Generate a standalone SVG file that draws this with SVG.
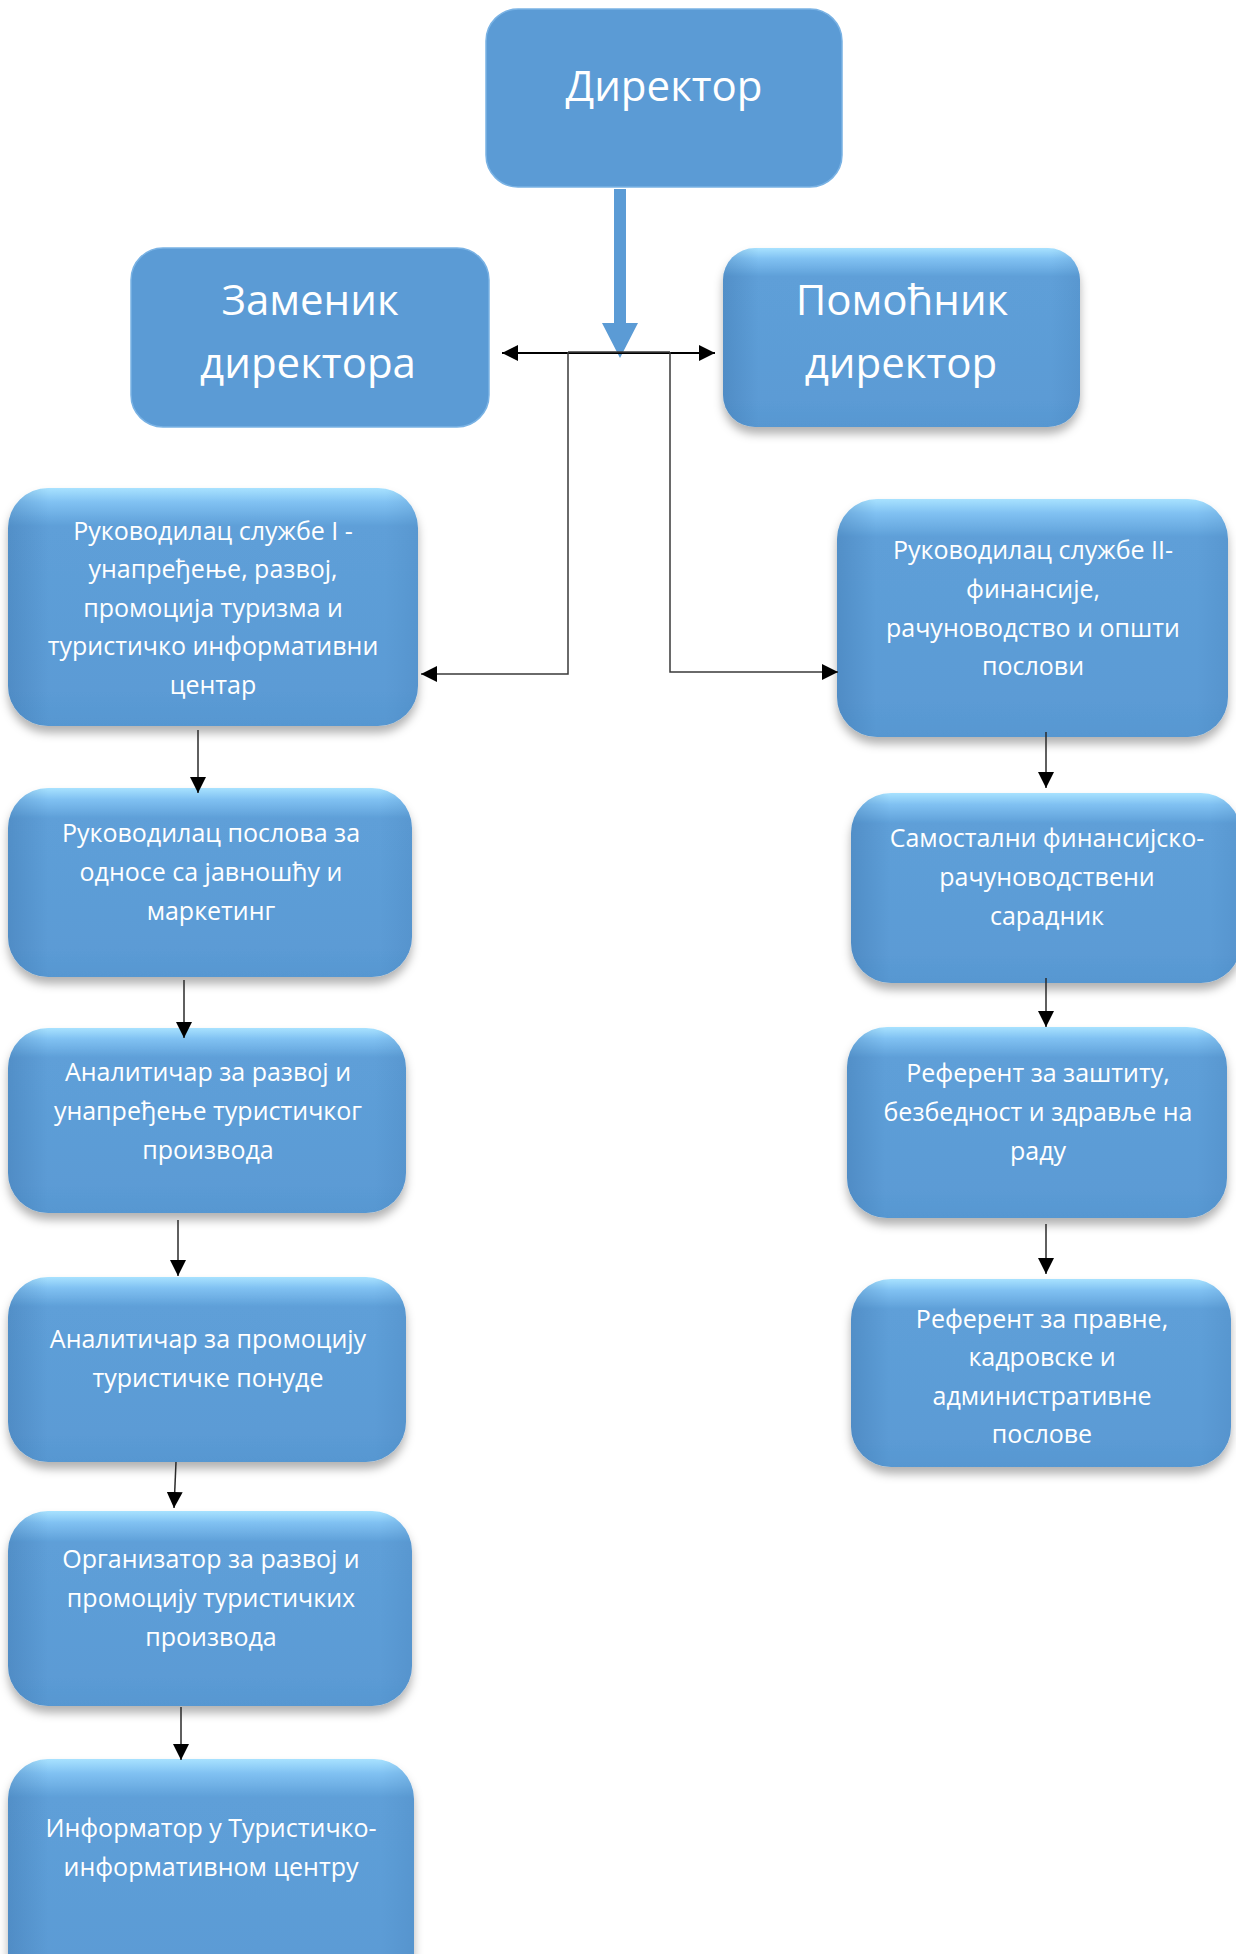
<svg xmlns="http://www.w3.org/2000/svg" width="1236" height="1954" viewBox="0 0 1236 1954">
<defs>
<style>
.t{font-family:"Open Sans","Noto Sans","DejaVu Sans",sans-serif;fill:#ffffff;text-anchor:middle;font-size:25px}
.tt{font-family:"Open Sans","Noto Sans","DejaVu Sans",sans-serif;fill:#ffffff;text-anchor:middle;font-size:42px}
.flat{fill:#5b9bd5;stroke:#79b2e4;stroke-width:1.5}
.box{fill:url(#vg);filter:url(#sh)}
.edge{fill:url(#hg)}
.ln{fill:none;stroke:#2a2a2a;stroke-width:1.5}
.el{fill:none;stroke:#3a3a3a;stroke-width:1.5}
</style>
<linearGradient id="vg" x1="0" y1="0" x2="0" y2="1">
<stop offset="0" stop-color="#a8e2ff"/>
<stop offset="0.06" stop-color="#80c1f2"/>
<stop offset="0.16" stop-color="#5e9fd8"/>
<stop offset="0.85" stop-color="#5b9bd5"/>
<stop offset="1" stop-color="#5797d1"/>
</linearGradient>
<linearGradient id="hg" x1="0" y1="0" x2="1" y2="0">
<stop offset="0" stop-color="#2c5f96" stop-opacity="0.25"/>
<stop offset="0.1" stop-color="#2c5f96" stop-opacity="0"/>
<stop offset="0.92" stop-color="#2c5f96" stop-opacity="0"/>
<stop offset="1" stop-color="#2c5f96" stop-opacity="0.12"/>
</linearGradient>
<filter id="sh" x="-10%" y="-10%" width="120%" height="125%">
<feDropShadow dx="0" dy="7" stdDeviation="5" flood-color="#000" flood-opacity="0.3"/>
</filter>
<marker id="ah" viewBox="0 0 16 16" refX="16" refY="8" markerWidth="16" markerHeight="16" markerUnits="userSpaceOnUse" orient="auto">
<path d="M0,0 L16,8 L0,16 Z" fill="#000"/>
</marker>
<marker id="ahb" viewBox="0 0 16 16" refX="16" refY="8" markerWidth="16" markerHeight="16" markerUnits="userSpaceOnUse" orient="auto-start-reverse">
<path d="M0,0 L16,8 L0,16 Z" fill="#000"/>
</marker>
</defs>
<rect width="1236" height="1954" fill="#ffffff"/>

<g id="director">
<rect class="flat" x="486" y="9" width="356" height="178" rx="32"/>
<text class="tt" x="664" y="101">Директор</text>
</g>

<g id="zamenik">
<rect class="flat" x="131" y="248" width="358" height="179" rx="32"/>
<text class="tt" x="310" y="315">Заменик</text>
<text class="tt" x="308" y="378">директора</text>
</g>

<g id="pomocnik">
<rect class="box" x="723" y="248" width="357" height="179" rx="32"/>
<rect class="edge" x="723" y="248" width="357" height="179" rx="32"/>
<text class="tt" x="902" y="315">Помоћник</text>
<text class="tt" x="901" y="378">директор</text>
</g>

<g id="sluzba1">
<rect class="box" x="8" y="488" width="410" height="238" rx="40"/>
<rect class="edge" x="8" y="488" width="410" height="238" rx="40"/>
<text class="t" x="213" y="540">Руководилац службе I -</text>
<text class="t" x="213" y="578">унапређење, развој,</text>
<text class="t" x="213" y="617">промоција туризма и</text>
<text class="t" x="213" y="655">туристичко информативни</text>
<text class="t" x="213" y="694">центар</text>
</g>

<g id="odnosi">
<rect class="box" x="8" y="788" width="404" height="189" rx="40"/>
<rect class="edge" x="8" y="788" width="404" height="189" rx="40"/>
<text class="t" x="211" y="842">Руководилац послова за</text>
<text class="t" x="211" y="881">односе са јавношћу и</text>
<text class="t" x="211" y="920">маркетинг</text>
</g>

<g id="analiticar1">
<rect class="box" x="8" y="1028" width="398" height="185" rx="40"/>
<rect class="edge" x="8" y="1028" width="398" height="185" rx="40"/>
<text class="t" x="208" y="1081">Аналитичар за развој и</text>
<text class="t" x="208" y="1120">унапређење туристичког</text>
<text class="t" x="208" y="1159">производа</text>
</g>

<g id="analiticar2">
<rect class="box" x="8" y="1277" width="398" height="185" rx="40"/>
<rect class="edge" x="8" y="1277" width="398" height="185" rx="40"/>
<text class="t" x="208" y="1348">Аналитичар за промоцију</text>
<text class="t" x="208" y="1387">туристичке понуде</text>
</g>

<g id="organizator">
<rect class="box" x="8" y="1511" width="404" height="195" rx="40"/>
<rect class="edge" x="8" y="1511" width="404" height="195" rx="40"/>
<text class="t" x="211" y="1568">Организатор за развој и</text>
<text class="t" x="211" y="1607">промоцију туристичких</text>
<text class="t" x="211" y="1646">производа</text>
</g>

<g id="informator">
<rect class="box" x="8" y="1759" width="406" height="240" rx="40"/>
<rect class="edge" x="8" y="1759" width="406" height="240" rx="40"/>
<text class="t" x="211" y="1837">Информатор у Туристичко-</text>
<text class="t" x="211" y="1876">информативном центру</text>
</g>

<g id="sluzba2">
<rect class="box" x="837" y="499" width="391" height="238" rx="40"/>
<rect class="edge" x="837" y="499" width="391" height="238" rx="40"/>
<text class="t" x="1033" y="559">Руководилац службе II-</text>
<text class="t" x="1033" y="598">финансије,</text>
<text class="t" x="1033" y="637">рачуноводство и општи</text>
<text class="t" x="1033" y="675">послови</text>
</g>

<g id="samostalni">
<rect class="box" x="851" y="793" width="390" height="190" rx="40"/>
<rect class="edge" x="851" y="793" width="390" height="190" rx="40"/>
<text class="t" x="1047" y="847">Самостални финансијско-</text>
<text class="t" x="1047" y="886">рачуноводствени</text>
<text class="t" x="1047" y="925">сарадник</text>
</g>

<g id="referent1">
<rect class="box" x="847" y="1027" width="380" height="191" rx="40"/>
<rect class="edge" x="847" y="1027" width="380" height="191" rx="40"/>
<text class="t" x="1038" y="1082">Референт за заштиту,</text>
<text class="t" x="1038" y="1121">безбедност и здравље на</text>
<text class="t" x="1038" y="1160">раду</text>
</g>

<g id="referent2">
<rect class="box" x="851" y="1279" width="380" height="188" rx="40"/>
<rect class="edge" x="851" y="1279" width="380" height="188" rx="40"/>
<text class="t" x="1042" y="1328">Референт за правне,</text>
<text class="t" x="1042" y="1366">кадровске и</text>
<text class="t" x="1042" y="1405">административне</text>
<text class="t" x="1042" y="1443">послове</text>
</g>

<g id="connectors">
<path d="M614,189 H626 V323 H638 L620,358 L602,323 H614 Z" fill="#5b9bd5"/>
<line x1="502" y1="353" x2="715" y2="353" stroke="#000" stroke-width="2" marker-start="url(#ahb)" marker-end="url(#ahb)"/>
<path class="el" d="M568,352 H670"/>
<path class="el" d="M568,352 V674 H421" marker-end="url(#ah)"/>
<path class="el" d="M670,352 V672 H838" marker-end="url(#ah)"/>
<line class="ln" x1="198" y1="730" x2="198" y2="793" marker-end="url(#ah)"/>
<line class="ln" x1="184" y1="980" x2="184" y2="1038" marker-end="url(#ah)"/>
<line class="ln" x1="178" y1="1220" x2="178" y2="1276" marker-end="url(#ah)"/>
<line class="ln" x1="176" y1="1462" x2="174" y2="1508" marker-end="url(#ah)"/>
<line class="ln" x1="181" y1="1707" x2="181" y2="1760" marker-end="url(#ah)"/>
<line class="ln" x1="1046" y1="732" x2="1046" y2="788" marker-end="url(#ah)"/>
<line class="ln" x1="1046" y1="978" x2="1046" y2="1027" marker-end="url(#ah)"/>
<line class="ln" x1="1046" y1="1224" x2="1046" y2="1274" marker-end="url(#ah)"/>
</g>
</svg>
